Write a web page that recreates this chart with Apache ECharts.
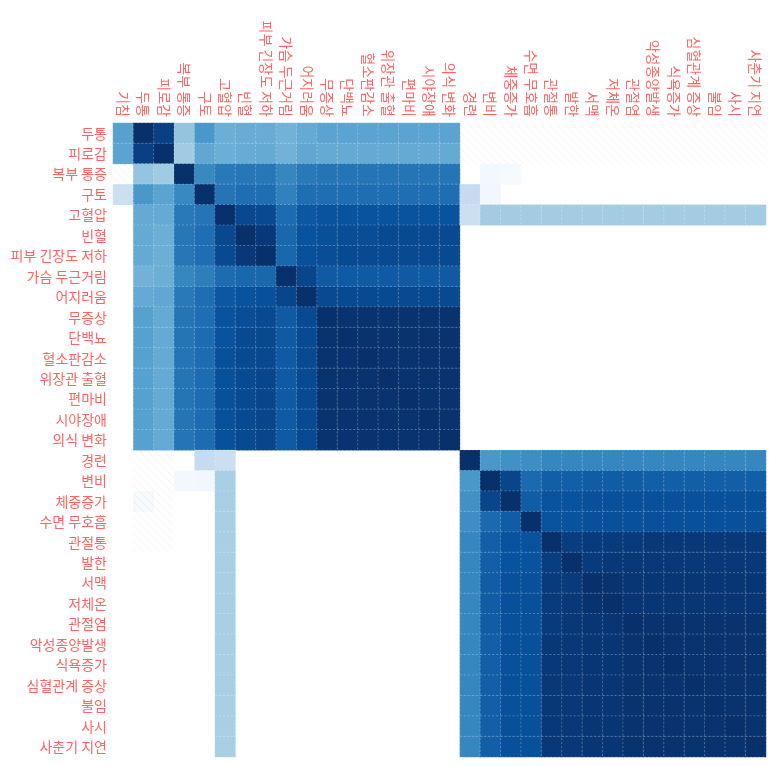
<!DOCTYPE html>
<html>
<head>
<meta charset="utf-8">
<script src="https://cdn.jsdelivr.net/npm/echarts@6/dist/echarts.min.js"></script>
<style>
  html, body { margin: 0; padding: 0; background: #fff; }
  #chart { width: 780px; height: 766px; }
</style>
</head>
<body>
<div id="chart"></div>
<script>
// 열 라벨 (첫 열의 행은 그림 위로 잘려 있음)
const xLabels = ['기침', '두통', '피로감', '복부 통증', '구토', '고혈압', '빈혈', '피부 긴장도 저하', '가슴 두근거림', '어지러움',
  '무증상', '단백뇨', '혈소판감소', '위장관 출혈', '편마비', '시야장애', '의식 변화', '경련', '변비', '체중증가',
  '수면 무호흡', '관절통', '발한', '서맥', '저체온', '관절염', '악성종양발생', '식욕증가', '심혈관계 증상', '불임', '사시', '사춘기 지연']

const yLabels = xLabels.slice(1)

// 상관 행렬 (행 = yLabels, 열 = xLabels), 0 은 빈 칸
const rows = [
  [0.56, 1.00, 0.94, 0.40, 0.60, 0.50, 0.51, 0.51, 0.48, 0.52, 0.55, 0.55, 0.55, 0.55, 0.55, 0.55, 0.55, 0, 0, 0, 0, 0, 0, 0, 0, 0, 0, 0, 0, 0, 0, 0],
  [0.55, 0.94, 1.00, 0.37, 0.53, 0.50, 0.51, 0.52, 0.48, 0.53, 0.52, 0.52, 0.52, 0.52, 0.52, 0.52, 0.52, 0, 0, 0, 0, 0, 0, 0, 0, 0, 0, 0, 0, 0, 0, 0],
  [0, 0.40, 0.37, 1.00, 0.66, 0.72, 0.73, 0.73, 0.67, 0.72, 0.74, 0.74, 0.74, 0.74, 0.74, 0.74, 0.74, 0, 0.02, 0.01, 0, 0, 0, 0, 0, 0, 0, 0, 0, 0, 0, 0],
  [0.22, 0.60, 0.55, 0.66, 1.00, 0.74, 0.76, 0.76, 0.69, 0.76, 0.76, 0.76, 0.76, 0.76, 0.76, 0.76, 0.76, 0.25, 0.03, 0, 0, 0, 0, 0, 0, 0, 0, 0, 0, 0, 0, 0],
  [0, 0.52, 0.52, 0.72, 0.74, 1.00, 0.91, 0.90, 0.77, 0.85, 0.87, 0.87, 0.87, 0.87, 0.87, 0.87, 0.87, 0.22, 0.36, 0.36, 0.36, 0.36, 0.36, 0.36, 0.36, 0.36, 0.36, 0.36, 0.36, 0.36, 0.36, 0.36],
  [0, 0.52, 0.50, 0.73, 0.76, 0.91, 1.00, 0.97, 0.79, 0.87, 0.88, 0.89, 0.89, 0.90, 0.90, 0.90, 0.90, 0, 0, 0, 0, 0, 0, 0, 0, 0, 0, 0, 0, 0, 0, 0],
  [0, 0.52, 0.50, 0.73, 0.76, 0.90, 0.97, 1.00, 0.79, 0.88, 0.89, 0.90, 0.90, 0.90, 0.90, 0.90, 0.90, 0, 0, 0, 0, 0, 0, 0, 0, 0, 0, 0, 0, 0, 0, 0],
  [0, 0.48, 0.50, 0.67, 0.70, 0.77, 0.79, 0.79, 1.00, 0.92, 0.84, 0.84, 0.84, 0.84, 0.84, 0.84, 0.84, 0, 0, 0, 0, 0, 0, 0, 0, 0, 0, 0, 0, 0, 0, 0],
  [0, 0.52, 0.53, 0.72, 0.76, 0.85, 0.87, 0.88, 0.92, 1.00, 0.90, 0.90, 0.90, 0.90, 0.90, 0.90, 0.90, 0, 0, 0, 0, 0, 0, 0, 0, 0, 0, 0, 0, 0, 0, 0],
  [0, 0.56, 0.52, 0.74, 0.76, 0.87, 0.89, 0.90, 0.84, 0.90, 1.00, 0.99, 0.99, 0.99, 0.99, 0.99, 0.99, 0, 0, 0, 0, 0, 0, 0, 0, 0, 0, 0, 0, 0, 0, 0],
  [0, 0.56, 0.52, 0.74, 0.77, 0.87, 0.90, 0.91, 0.84, 0.90, 0.99, 1.00, 0.99, 0.99, 0.99, 0.99, 0.99, 0, 0, 0, 0, 0, 0, 0, 0, 0, 0, 0, 0, 0, 0, 0],
  [0, 0.56, 0.52, 0.74, 0.77, 0.88, 0.90, 0.91, 0.84, 0.90, 0.99, 0.99, 1.00, 0.99, 0.99, 0.99, 0.99, 0, 0, 0, 0, 0, 0, 0, 0, 0, 0, 0, 0, 0, 0, 0],
  [0, 0.56, 0.52, 0.74, 0.77, 0.88, 0.90, 0.92, 0.84, 0.90, 0.99, 0.99, 0.99, 1.00, 0.99, 0.99, 0.99, 0, 0, 0, 0, 0, 0, 0, 0, 0, 0, 0, 0, 0, 0, 0],
  [0, 0.56, 0.52, 0.74, 0.77, 0.88, 0.90, 0.92, 0.84, 0.90, 0.99, 0.99, 0.99, 0.99, 1.00, 0.99, 0.99, 0, 0, 0, 0, 0, 0, 0, 0, 0, 0, 0, 0, 0, 0, 0],
  [0, 0.56, 0.52, 0.74, 0.77, 0.88, 0.90, 0.92, 0.84, 0.90, 0.99, 0.99, 0.99, 0.99, 0.99, 1.00, 0.99, 0, 0, 0, 0, 0, 0, 0, 0, 0, 0, 0, 0, 0, 0, 0],
  [0, 0.56, 0.52, 0.74, 0.77, 0.88, 0.90, 0.92, 0.84, 0.90, 0.99, 0.99, 0.99, 0.99, 0.99, 0.99, 1.00, 0, 0, 0, 0, 0, 0, 0, 0, 0, 0, 0, 0, 0, 0, 0],
  [0, 0, 0, 0, 0.25, 0.22, 0, 0, 0, 0, 0, 0, 0, 0, 0, 0, 0, 1.00, 0.60, 0.63, 0.64, 0.67, 0.67, 0.67, 0.67, 0.67, 0.67, 0.67, 0.67, 0.67, 0.67, 0.67],
  [0, 0, 0, 0.02, 0.03, 0.34, 0, 0, 0, 0, 0, 0, 0, 0, 0, 0, 0, 0.60, 1.00, 0.92, 0.78, 0.82, 0.82, 0.83, 0.83, 0.83, 0.82, 0.82, 0.82, 0.82, 0.82, 0.82],
  [0, 0.01, 0, 0, 0, 0.34, 0, 0, 0, 0, 0, 0, 0, 0, 0, 0, 0, 0.63, 0.92, 1.00, 0.83, 0.87, 0.87, 0.88, 0.88, 0.88, 0.88, 0.88, 0.88, 0.88, 0.88, 0.88],
  [0, 0, 0, 0, 0, 0.34, 0, 0, 0, 0, 0, 0, 0, 0, 0, 0, 0, 0.64, 0.78, 0.83, 1.00, 0.87, 0.87, 0.88, 0.88, 0.88, 0.88, 0.88, 0.88, 0.88, 0.88, 0.88],
  [0, 0, 0, 0, 0, 0.34, 0, 0, 0, 0, 0, 0, 0, 0, 0, 0, 0, 0.67, 0.82, 0.87, 0.87, 1.00, 0.95, 0.96, 0.96, 0.96, 0.97, 0.97, 0.97, 0.97, 0.97, 0.97],
  [0, 0, 0, 0, 0, 0.34, 0, 0, 0, 0, 0, 0, 0, 0, 0, 0, 0, 0.67, 0.82, 0.87, 0.87, 0.95, 1.00, 0.96, 0.97, 0.97, 0.97, 0.97, 0.97, 0.97, 0.97, 0.97],
  [0, 0, 0, 0, 0, 0.34, 0, 0, 0, 0, 0, 0, 0, 0, 0, 0, 0, 0.67, 0.83, 0.88, 0.88, 0.96, 0.96, 1.00, 0.99, 0.98, 0.98, 0.98, 0.98, 0.98, 0.98, 0.98],
  [0, 0, 0, 0, 0, 0.34, 0, 0, 0, 0, 0, 0, 0, 0, 0, 0, 0, 0.67, 0.83, 0.88, 0.88, 0.96, 0.97, 0.99, 1.00, 0.98, 0.98, 0.98, 0.98, 0.98, 0.98, 0.98],
  [0, 0, 0, 0, 0, 0.34, 0, 0, 0, 0, 0, 0, 0, 0, 0, 0, 0, 0.67, 0.83, 0.88, 0.88, 0.96, 0.97, 0.98, 0.98, 1.00, 0.99, 0.99, 0.99, 0.99, 0.99, 0.99],
  [0, 0, 0, 0, 0, 0.34, 0, 0, 0, 0, 0, 0, 0, 0, 0, 0, 0, 0.67, 0.82, 0.88, 0.88, 0.97, 0.97, 0.98, 0.98, 0.99, 1.00, 0.99, 0.99, 0.99, 0.99, 0.99],
  [0, 0, 0, 0, 0, 0.34, 0, 0, 0, 0, 0, 0, 0, 0, 0, 0, 0, 0.67, 0.82, 0.88, 0.88, 0.97, 0.97, 0.98, 0.98, 0.99, 0.99, 1.00, 0.99, 0.99, 0.99, 0.99],
  [0, 0, 0, 0, 0, 0.34, 0, 0, 0, 0, 0, 0, 0, 0, 0, 0, 0, 0.67, 0.82, 0.88, 0.88, 0.97, 0.97, 0.98, 0.98, 0.99, 0.99, 0.99, 1.00, 0.99, 0.99, 0.99],
  [0, 0, 0, 0, 0, 0.34, 0, 0, 0, 0, 0, 0, 0, 0, 0, 0, 0, 0.67, 0.82, 0.88, 0.88, 0.97, 0.97, 0.98, 0.98, 0.99, 0.99, 0.99, 0.99, 1.00, 0.99, 0.99],
  [0, 0, 0, 0, 0, 0.34, 0, 0, 0, 0, 0, 0, 0, 0, 0, 0, 0, 0.67, 0.82, 0.88, 0.88, 0.97, 0.97, 0.98, 0.98, 0.99, 0.99, 0.99, 0.99, 0.99, 1.00, 0.99],
  [0, 0, 0, 0, 0, 0.34, 0, 0, 0, 0, 0, 0, 0, 0, 0, 0, 0, 0.67, 0.82, 0.88, 0.88, 0.97, 0.97, 0.98, 0.98, 0.99, 0.99, 0.99, 0.99, 0.99, 0.99, 1.00]
]

// 빗금 처리된 (결측) 칸: [열, 행]
const hatchedCells = [
  [0, 2],
  [17, 0], [18, 0], [19, 0], [20, 0], [21, 0], [22, 0], [23, 0], [24, 0], [25, 0], [26, 0], [27, 0], [28, 0], [29, 0], [30, 0], [31, 0],
  [17, 1], [18, 1], [19, 1], [20, 1], [21, 1], [22, 1], [23, 1], [24, 1], [25, 1], [26, 1], [27, 1], [28, 1], [29, 1], [30, 1], [31, 1],
  [1, 16], [2, 16], [1, 17], [2, 17], [1, 18], [2, 18], [1, 19], [2, 19], [1, 20], [2, 20]
]

const blues = ['#f7fbff', '#deebf7', '#c6dbef', '#9ecae1', '#6baed6', '#4292c6', '#2171b5', '#08519c', '#08306b']

const data = []
rows.forEach((row, y) => row.forEach((v, x) => data.push([x, y, v === 0 ? '-' : v])))

// 빗금 패턴 (아주 옅게)
const hatch = document.createElement('canvas')
hatch.width = 8
hatch.height = 8
const ctx = hatch.getContext('2d')
ctx.strokeStyle = 'rgba(235, 190, 190, 0.22)'
ctx.lineWidth = 1
ctx.beginPath()
ctx.moveTo(0, 0); ctx.lineTo(8, 8)
ctx.moveTo(-4, 4); ctx.lineTo(4, 12)
ctx.moveTo(4, -4); ctx.lineTo(12, 4)
ctx.stroke()

const chart = echarts.init(document.getElementById('chart'))

const labelStyle = {
  color: '#ff6464',
  fontSize: 14,
  fontFamily: '"Noto Sans CJK KR", sans-serif'
}

chart.setOption({
  animation: false,
  backgroundColor: '#ffffff',
  grid: { left: 113, right: 14, top: 123, bottom: 9 },
  xAxis: {
    type: 'category',
    position: 'top',
    data: xLabels,
    axisLine: { show: false },
    axisTick: { show: false },
    splitArea: { show: false },
    axisLabel: Object.assign({ rotate: 90, interval: 0, margin: 6 }, labelStyle)
  },
  yAxis: {
    type: 'category',
    inverse: true,
    data: yLabels,
    axisLine: { show: false },
    axisTick: { show: false },
    axisLabel: Object.assign({ interval: 0, margin: 6 }, labelStyle)
  },
  visualMap: {
    show: false,
    seriesIndex: 0,
    min: 0,
    max: 1,
    inRange: { color: blues }
  },
  series: [
    {
      type: 'heatmap',
      data: data,
      itemStyle: {
        borderColor: 'rgba(255,255,255,0.25)',
        borderWidth: 1,
        borderType: [2, 2]
      },
      emphasis: { disabled: true }
    },
    {
      type: 'custom',
      data: hatchedCells,
      silent: true,
      renderItem: (params, api) => {
        const p = api.coord([api.value(0), api.value(1)])
        const s = api.size([1, 1])
        return {
          type: 'rect',
          shape: { x: p[0] - s[0] / 2, y: p[1] - s[1] / 2, width: s[0], height: s[1] },
          style: { fill: { image: hatch, repeat: 'repeat' } }
        }
      }
    }
  ]
})
</script>
</body>
</html>
